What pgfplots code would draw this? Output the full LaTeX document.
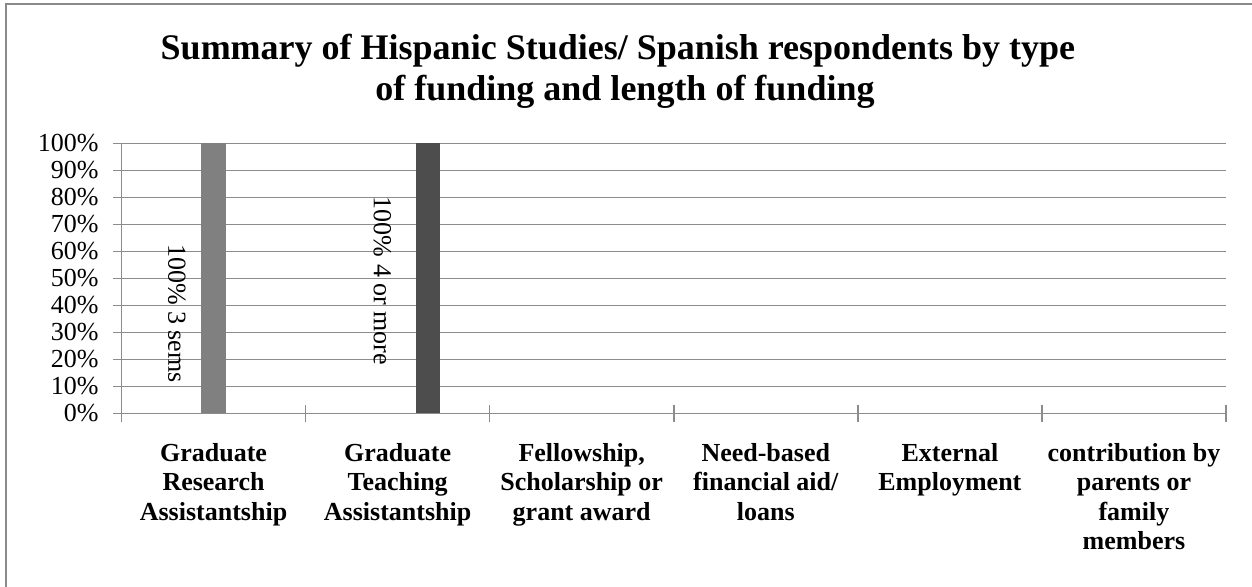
\documentclass[border=0pt]{standalone}
\usepackage{fontspec}
\setmainfont{Liberation Serif}
\usepackage{pgfplots}
\pgfplotsset{compat=1.18}
\definecolor{gridgray}{HTML}{8C8C8C}
\definecolor{framegray}{HTML}{8A8A8A}
\definecolor{barA}{HTML}{808080}
\definecolor{barB}{HTML}{4D4D4D}
\begin{document}
\begin{tikzpicture}
\useasboundingbox (0,0) rectangle (626pt,293pt);
\draw[framegray, line width=1.2pt] (3pt,-5pt) -- (3pt,291pt) -- (640pt,291pt);
\node[anchor=base, font=\fontsize{18}{20}\selectfont\bfseries] at (309pt,263.5pt) {Summary of Hispanic Studies/ Spanish respondents by type};
\node[anchor=base, font=\fontsize{18}{20}\selectfont\bfseries] at (312.5pt,243pt) {of funding and length of funding};
\begin{axis}[
  at={(60.75pt,86.35pt)}, anchor=south west,
  scale only axis, width=552.25pt, height=135pt,
  xmin=-0.5, xmax=5.5, ymin=0, ymax=100,
  axis x line*=bottom, axis y line*=left,
  axis line style={gridgray, line width=0.8pt, -},
  ytick={0,10,...,100},
  yticklabels={0\%,10\%,20\%,30\%,40\%,50\%,60\%,70\%,80\%,90\%,100\%},
  ymajorgrids, grid style={gridgray, line width=0.8pt},
  tick align=center, major tick length=8.5pt,
  tick style={gridgray, line width=0.8pt},
  xtick={-0.5,0.5,...,5.5}, xticklabels={},
  extra x ticks={0,1,2,3,4,5},
  extra x tick labels={{Graduate\\Research\\Assistantship},{Graduate\\Teaching\\Assistantship},{Fellowship,\\Scholarship or\\grant award},{Need-based\\financial aid/\\loans},{External\\Employment},{contribution by\\parents or\\family\\members}},
  extra x tick style={major tick length=0pt, tick style={draw=none},
    xticklabel style={align=center, font=\fontsize{13}{14.6}\selectfont\bfseries, anchor=north, inner sep=0pt, yshift=-15pt}},
  yticklabel style={font=\fontsize{13}{15}\selectfont, anchor=east, inner sep=0pt, xshift=-7pt},
  clip=false,
]
\addplot[ybar, bar width=0.138, bar shift=0pt, fill=barA, draw=none] coordinates {(0,100)};
\addplot[ybar, bar width=0.13, bar shift=0pt, fill=barB, draw=none] coordinates {(1.165,100)};
\node[rotate=-90, font=\fontsize{13}{15}\selectfont, inner sep=0pt] at (axis cs:-0.2,37) {100\% 3 sems};
\node[rotate=-90, font=\fontsize{13}{15}\selectfont, inner sep=0pt] at (axis cs:0.9175,49) {100\% 4 or more};
\end{axis}
\end{tikzpicture}
\end{document}
